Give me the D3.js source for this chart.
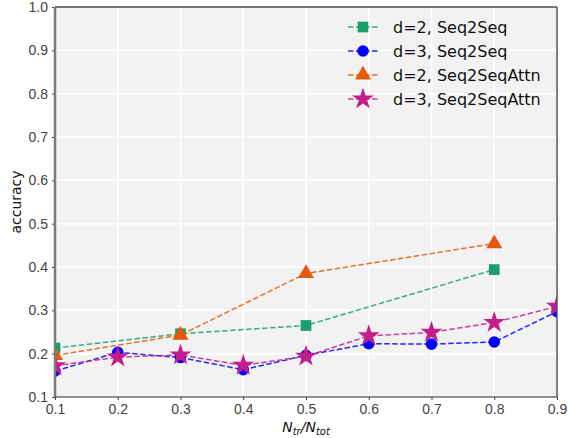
<!DOCTYPE html>
<html lang="en">
<head>
<meta charset="UTF-8">
<title>accuracy vs Ntr/Ntot</title>
<script src="https://d3js.org/d3.v7.min.js"></script>
<style>
  body { margin: 0; background: #fff; }
  svg { font-family: "DejaVu Sans", sans-serif; }
  .tick text { fill: #444; font-size: 14px; }
</style>
</head>
<body>
<svg id="chart" width="568" height="438"></svg>
<script>
const xTicks = [0.1, 0.2, 0.3, 0.4, 0.5, 0.6, 0.7, 0.8, 0.9];
const yTicks = [0.1, 0.2, 0.3, 0.4, 0.5, 0.6, 0.7, 0.8, 0.9, 1.0];

const d2Seq = [[0.1, 0.213], [0.3, 0.246], [0.5, 0.265], [0.8, 0.394]];
const d3Seq = [[0.1, 0.160], [0.2, 0.203], [0.3, 0.191], [0.4, 0.163], [0.5, 0.196], [0.6, 0.223], [0.7, 0.222], [0.8, 0.227], [0.9, 0.297]];
const d2Attn = [[0.1, 0.196], [0.3, 0.243], [0.5, 0.385], [0.8, 0.454]];
const d3Attn = [[0.1, 0.172], [0.2, 0.192], [0.3, 0.197], [0.4, 0.173], [0.5, 0.194], [0.6, 0.241], [0.7, 0.249], [0.8, 0.272], [0.9, 0.309]];

const series = [
  { name: "d=2, Seq2Seq", data: d2Seq, color: "#1a9e6e", marker: "square" },
  { name: "d=3, Seq2Seq", data: d3Seq, color: "#0000ff", marker: "circle" },
  { name: "d=2, Seq2SeqAttn", data: d2Attn, color: "#e6590b", marker: "triangle" },
  { name: "d=3, Seq2SeqAttn", data: d3Attn, color: "#c41e8c", marker: "star" }
];

const margin = { top: 7, right: 11, bottom: 41, left: 55 };
const W = 568, H = 438;
const w = W - margin.left - margin.right;
const h = H - margin.top - margin.bottom;

const svg = d3.select("#chart");
const g = svg.append("g").attr("transform", `translate(${margin.left},${margin.top})`);

const x = d3.scaleLinear().domain([0.1, 0.9]).range([0, w]);
const y = d3.scaleLinear().domain([0.1, 1.0]).range([h, 0]);

g.append("rect").attr("width", w).attr("height", h).attr("fill", "#f2f2f2");

// grid
g.append("g").selectAll("line").data(xTicks).join("line")
  .attr("x1", d => x(d)).attr("x2", d => x(d)).attr("y1", 0).attr("y2", h)
  .attr("stroke", "#fff").attr("stroke-width", 1.6);
g.append("g").selectAll("line").data(yTicks).join("line")
  .attr("y1", d => y(d)).attr("y2", d => y(d)).attr("x1", 0).attr("x2", w)
  .attr("stroke", "#fff").attr("stroke-width", 1.6);

svg.append("defs").append("clipPath").attr("id", "clip")
  .append("rect").attr("width", w).attr("height", h);

const symbols = {
  square: d3.symbol().type(d3.symbolSquare).size(115),
  circle: d3.symbol().type(d3.symbolCircle).size(105),
  triangle: d3.symbol().type(d3.symbolTriangle).size(110),
  star: d3.symbol().type(d3.symbolStar).size(150)
};

const line = d3.line().x(d => x(d[0])).y(d => y(d[1]));
const plot = g.append("g").attr("clip-path", "url(#clip)");

series.forEach(s => {
  plot.append("path").datum(s.data)
    .attr("d", line).attr("fill", "none")
    .attr("stroke", s.color).attr("stroke-width", 1.5)
    .attr("stroke-dasharray", "5.5,2.5").attr("opacity", 0.85);
  plot.append("g").selectAll("path").data(s.data).join("path")
    .attr("d", symbols[s.marker])
    .attr("transform", d => `translate(${x(d[0])},${y(d[1])})`)
    .attr("fill", s.color);
});

// axes
const xAxis = g.append("g").attr("transform", `translate(0,${h})`)
  .call(d3.axisBottom(x).tickValues(xTicks).tickFormat(d3.format(".1f")).tickSizeOuter(0).tickSize(3).tickPadding(4));
xAxis.select(".domain").remove();
xAxis.selectAll(".tick line").attr("stroke", "#444");

const yAxis = g.append("g")
  .call(d3.axisLeft(y).tickValues(yTicks).tickFormat(d3.format(".1f")).tickSizeOuter(0).tickSize(3).tickPadding(4));
yAxis.select(".domain").remove();
yAxis.selectAll(".tick line").attr("stroke", "#444");

// spines
g.append("line").attr("x1", 0).attr("x2", w).attr("y1", 0).attr("y2", 0)
  .attr("stroke", "#777").attr("stroke-width", 2);
g.append("line").attr("x1", w).attr("x2", w).attr("y1", 0).attr("y2", h)
  .attr("stroke", "#555").attr("stroke-width", 1.5);
g.append("line").attr("x1", 0).attr("x2", w).attr("y1", h).attr("y2", h)
  .attr("stroke", "#222").attr("stroke-width", 1.2);
g.append("line").attr("x1", 0).attr("x2", 0).attr("y1", 0).attr("y2", h)
  .attr("stroke", "#7a7a7a").attr("stroke-width", 2.5);

// labels
svg.append("text").attr("transform", `translate(21,${margin.top + h / 2}) rotate(-90)`)
  .attr("text-anchor", "middle").attr("font-size", 14).attr("fill", "#111").text("accuracy");

const xl = svg.append("text").attr("x", margin.left + w / 2).attr("y", 432)
  .attr("text-anchor", "middle").attr("font-size", 14).attr("font-style", "italic").attr("fill", "#111");
xl.append("tspan").text("N");
xl.append("tspan").attr("font-size", 10).attr("dy", 3).text("tr");
xl.append("tspan").attr("dy", -3).text("/N");
xl.append("tspan").attr("font-size", 10).attr("dy", 3).text("tot");

// legend
const leg = svg.append("g").attr("transform", "translate(348,27)");
series.forEach((s, i) => {
  const r = leg.append("g").attr("transform", `translate(0,${i * 24})`);
  r.append("line").attr("x1", 0).attr("x2", 30).attr("stroke", s.color)
    .attr("stroke-width", 1.5).attr("stroke-dasharray", "5.5,2.5").attr("opacity", 0.85);
  r.append("path").attr("d", symbols[s.marker]).attr("transform", "translate(15,0)").attr("fill", s.color);
  r.append("text").attr("x", 45).attr("y", 6).attr("font-size", 16).attr("fill", "#111").text(s.name);
});
</script>
</body>
</html>
